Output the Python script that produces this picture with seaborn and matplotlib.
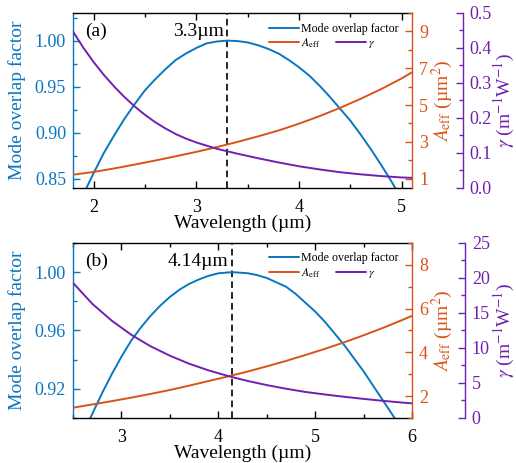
import matplotlib
matplotlib.use("Agg")
import matplotlib.pyplot as plt
from matplotlib.ticker import MultipleLocator, FixedLocator, FormatStrFormatter
import seaborn as sns

# ---------------- panel (a) ----------------
wl_a_overlap = [1.9, 2.0, 2.1, 2.2, 2.3, 2.4, 2.5, 2.6, 2.7, 2.8, 2.9, 3.0, 3.1, 3.2,
                3.3, 3.4, 3.5, 3.6, 3.7, 3.8, 3.9, 4.0, 4.1, 4.2, 4.3, 4.4, 4.5, 4.6,
                4.7, 4.8, 4.9, 5.0]
overlap_a = [0.833, 0.856, 0.878, 0.897, 0.915, 0.931, 0.946, 0.958, 0.969, 0.979,
             0.986, 0.992, 0.997, 0.999, 1.000, 0.9995, 0.998, 0.995, 0.991, 0.986,
             0.979, 0.971, 0.962, 0.951, 0.939, 0.926, 0.913, 0.898, 0.882, 0.865,
             0.847, 0.828]
wl_a_aeff = [1.8, 2.0, 2.2, 2.4, 2.6, 2.8, 3.0, 3.2, 3.4, 3.6, 3.8, 4.0, 4.2, 4.4,
             4.6, 4.8, 5.0, 5.1]
aeff_a = [1.22, 1.37, 1.56, 1.77, 1.99, 2.22, 2.46, 2.72, 3.00, 3.30, 3.62, 3.99,
          4.40, 4.85, 5.34, 5.87, 6.45, 6.78]
wl_a_gamma = [1.8, 1.9, 2.0, 2.1, 2.2, 2.3, 2.4, 2.5, 2.6, 2.7, 2.8, 2.9, 3.0, 3.2,
              3.4, 3.6, 3.8, 4.0, 4.2, 4.4, 4.6, 4.8, 5.0, 5.1]
gamma_a = [0.447, 0.401, 0.360, 0.323, 0.290, 0.260, 0.233, 0.209, 0.188, 0.170,
           0.154, 0.141, 0.130, 0.112, 0.098, 0.085, 0.073, 0.062, 0.053, 0.045,
           0.039, 0.034, 0.030, 0.029]
peak_a = 3.3

# ---------------- panel (b) ----------------
wl_b_overlap = [2.6, 2.7, 2.8, 2.9, 3.0, 3.1, 3.2, 3.3, 3.4, 3.5, 3.6, 3.7, 3.8, 3.9,
                4.0, 4.14, 4.3, 4.4, 4.5, 4.6, 4.7, 4.8, 4.9, 5.0, 5.1, 5.2, 5.3, 5.4,
                5.5, 5.6, 5.7, 5.8, 5.9]
overlap_b = [0.889, 0.903, 0.917, 0.930, 0.942, 0.953, 0.962, 0.970, 0.977, 0.983,
             0.988, 0.992, 0.995, 0.9975, 0.9992, 1.000, 0.9993, 0.998, 0.996, 0.993,
             0.990, 0.985, 0.979, 0.973, 0.966, 0.958, 0.950, 0.941, 0.932, 0.922,
             0.912, 0.902, 0.892]
wl_b_aeff = [2.5, 2.7, 2.9, 3.1, 3.3, 3.5, 3.7, 3.9, 4.1, 4.3, 4.5, 4.7, 4.9, 5.1,
             5.3, 5.5, 5.7, 5.9, 6.0]
aeff_b = [1.47, 1.62, 1.77, 1.93, 2.10, 2.28, 2.48, 2.69, 2.90, 3.12, 3.36, 3.61,
          3.88, 4.16, 4.46, 4.78, 5.12, 5.48, 5.67]
wl_b_gamma = [2.5, 2.7, 2.9, 3.1, 3.3, 3.5, 3.7, 3.9, 4.1, 4.3, 4.5, 4.7, 4.9, 5.1,
              5.3, 5.5, 5.7, 5.9, 6.0]
gamma_b = [19.3, 16.3, 13.9, 11.9, 10.25, 8.9, 7.75, 6.8, 6.0, 5.3, 4.7, 4.18, 3.72,
           3.36, 3.03, 2.73, 2.45, 2.20, 2.09]
peak_b = 4.14

BLUE = "#0A76C0"
ORANGE = "#D95319"
PURPLE = "#7020B0"

sns.set_theme(style="ticks")
plt.rcParams.update({
    "font.family": ["Liberation Serif", "DejaVu Serif"],
    "mathtext.fontset": "stix",
    "axes.edgecolor": "black",
    "axes.labelcolor": "black",
    "text.color": "black",
    "xtick.color": "black",
    "ytick.color": "black",
    "axes.linewidth": 1.0,
})

fig = plt.figure(figsize=(5.16, 4.63), dpi=100)

LEG_KW = dict(loc="center left", bbox_transform=fig.transFigure, frameon=False,
              fontsize=8.6, handlelength=2.5, handletextpad=0.2, borderpad=0,
              borderaxespad=0)


def draw_panel(rect, tag, wl_ov, ov, wl_ae, ae, wl_g, g, peak, xlim,
               ov_lim, ov_step, ae_lim, ae_major, g_lim, g_step, g_fmt,
               g_offset, leg_y):
    ax = fig.add_axes(rect)
    ax2 = ax.twinx()
    ax3 = ax.twinx()

    ax.axvline(peak, color="black", lw=1.2, ls=(0, (4, 2.5)), zorder=1)
    sns.lineplot(x=wl_ov, y=ov, ax=ax, color=BLUE, lw=1.4, legend=False)
    sns.lineplot(x=wl_ae, y=ae, ax=ax2, color=ORANGE, lw=1.4, legend=False)
    sns.lineplot(x=wl_g, y=g, ax=ax3, color=PURPLE, lw=1.4, legend=False)

    ax.set_xlim(*xlim)
    ax.set_ylim(*ov_lim)
    ax2.set_ylim(*ae_lim)
    ax3.set_ylim(*g_lim)

    # x axis: ticks inside, mirrored on top
    ax.xaxis.set_major_locator(MultipleLocator(1))
    ax.xaxis.set_minor_locator(MultipleLocator(0.5))
    ax.tick_params(axis="x", which="both", direction="in", top=True, bottom=True,
                   colors="black", labelsize=13, pad=8, width=1.0)
    ax.tick_params(axis="x", which="major", length=5)
    ax.tick_params(axis="x", which="minor", length=3)

    # mode overlap axis (left)
    ax.yaxis.set_major_locator(MultipleLocator(ov_step))
    ax.yaxis.set_minor_locator(MultipleLocator(ov_step / 2))
    ax.yaxis.set_major_formatter(FormatStrFormatter("%.2f"))
    ax.tick_params(axis="y", which="both", direction="in", left=True, right=False,
                   colors=BLUE, labelsize=13, pad=5, width=1.0)
    ax.tick_params(axis="y", which="major", length=5)
    ax.tick_params(axis="y", which="minor", length=3)
    ax.spines["left"].set_color(BLUE)
    ax.spines["right"].set_visible(False)

    # effective area axis (right)
    ax2.yaxis.set_major_locator(FixedLocator(ae_major))
    ax2.yaxis.set_minor_locator(MultipleLocator(1))
    ax2.yaxis.set_major_formatter(FormatStrFormatter("%d"))
    ax2.tick_params(axis="y", which="both", direction="in", colors=ORANGE,
                    labelsize=13, pad=5, width=1.0)
    ax2.tick_params(axis="y", which="major", length=5)
    ax2.tick_params(axis="y", which="minor", length=3)
    for s in ("left", "top", "bottom"):
        ax2.spines[s].set_visible(False)
    ax2.spines["right"].set_color(ORANGE)

    # nonlinear coefficient axis (offset right)
    ax3.spines["right"].set_position(("axes", g_offset))
    ax3.yaxis.set_major_locator(MultipleLocator(g_step))
    ax3.yaxis.set_minor_locator(MultipleLocator(g_step / 2))
    ax3.yaxis.set_major_formatter(FormatStrFormatter(g_fmt))
    ax3.tick_params(axis="y", which="both", direction="in", colors=PURPLE,
                    labelsize=13, pad=5, width=1.0)
    ax3.tick_params(axis="y", which="major", length=5)
    ax3.tick_params(axis="y", which="minor", length=3)
    for s in ("left", "top", "bottom"):
        ax3.spines[s].set_visible(False)
    ax3.spines["right"].set_color(PURPLE)

    # axis labels
    ax.set_xlabel("Wavelength (µm)", fontsize=14)
    ax.xaxis.set_label_coords(0.5, -0.152)
    ax.set_ylabel("Mode overlap factor", color=BLUE, fontsize=14)
    ax.yaxis.set_label_coords(-0.139, 0.5)
    ax2.set_ylabel(r"$A_{\rm eff}$ (µm$^2$)", color=ORANGE, fontsize=14)
    ax2.yaxis.set_label_coords(1.053, 0.5)
    ax3.set_ylabel(r"$\gamma$ (m$^{-1}$W$^{-1}$)", color=PURPLE, fontsize=14)
    ax3.yaxis.set_label_coords(1.236, 0.5)

    # panel tag and peak annotation
    ax.text(0.035, 0.866, tag, transform=ax.transAxes, fontsize=14, va="baseline")
    ax.annotate(f"{peak:g}µm", xy=(peak, 0.866), xycoords=("data", "axes fraction"),
                xytext=(-2.5, 0), textcoords="offset points", ha="right",
                va="baseline", fontsize=14)

    # legend
    l_ov, l_ae, l_g = ax.lines[-1], ax2.lines[-1], ax3.lines[-1]
    leg1 = ax3.legend([l_ov], ["Mode overlap factor"],
                      bbox_to_anchor=(0.5213, leg_y[0]), **LEG_KW)
    ax3.add_artist(leg1)
    leg2 = ax3.legend([l_ae], [r"$A_{\rm eff}$"],
                      bbox_to_anchor=(0.5213, leg_y[1]), **LEG_KW)
    ax3.add_artist(leg2)
    ax3.legend([l_g], [r"$\gamma$"], bbox_to_anchor=(0.6512, leg_y[1]), **LEG_KW)
    return ax


draw_panel([0.1415, 0.5940, 0.6570, 0.3780], "(a)",
           wl_a_overlap, overlap_a, wl_a_aeff, aeff_a, wl_a_gamma, gamma_a, peak_a,
           xlim=(1.8, 5.1), ov_lim=(0.84, 1.03), ov_step=0.05,
           ae_lim=(0.5, 10.0), ae_major=[1, 3, 5, 7, 9],
           g_lim=(0.0, 0.5), g_step=0.1, g_fmt="%.1f", g_offset=1.149,
           leg_y=(0.9374, 0.9065))

draw_panel([0.1415, 0.0972, 0.6570, 0.3780], "(b)",
           wl_b_overlap, overlap_b, wl_b_aeff, aeff_b, wl_b_gamma, gamma_b, peak_b,
           xlim=(2.5, 6.0), ov_lim=(0.90, 1.02), ov_step=0.04,
           ae_lim=(1.0, 9.0), ae_major=[2, 4, 6, 8],
           g_lim=(0.0, 25.0), g_step=5, g_fmt="%d", g_offset=1.156,
           leg_y=(0.4421, 0.4097))

fig.savefig("out.png", dpi=100)
